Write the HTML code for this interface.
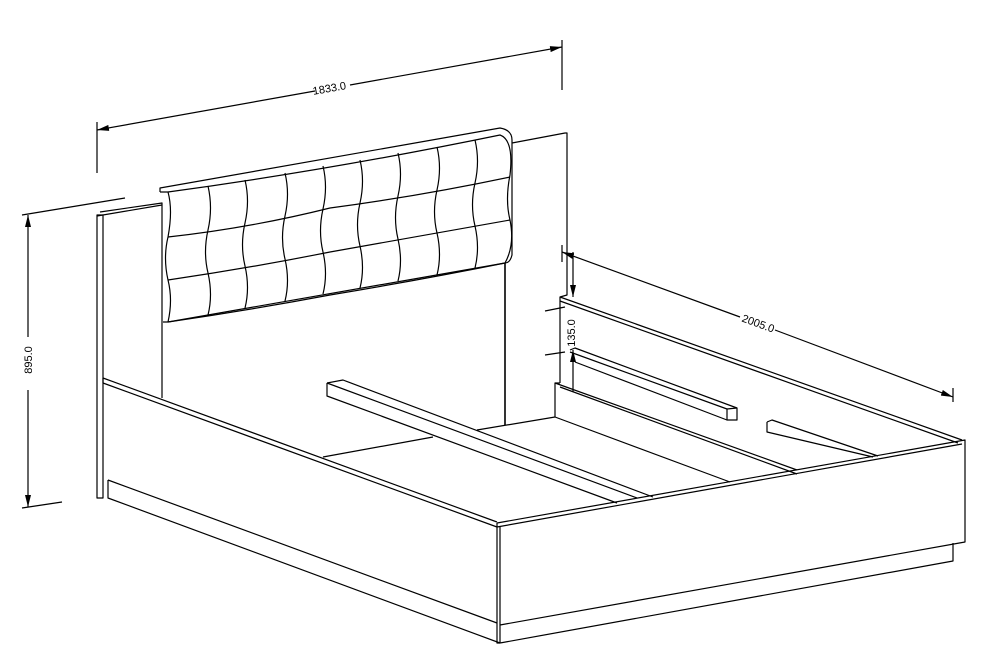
<!DOCTYPE html>
<html><head><meta charset="utf-8"><style>
html,body{margin:0;padding:0;background:#fff;width:1000px;height:650px;overflow:hidden}
svg{display:block}
text{font-family:"Liberation Sans",sans-serif;font-size:11px;fill:#000}
</style></head><body>
<svg width="1000" height="650" viewBox="0 0 1000 650" xmlns="http://www.w3.org/2000/svg">
<defs>
<marker id="a" viewBox="0 0 12 6" refX="12" refY="3" markerWidth="12" markerHeight="6" markerUnits="userSpaceOnUse" orient="auto"><path d="M0,0 L12,3 L0,6 z" fill="#000"/></marker>
</defs>
<g fill="none" stroke="#000" stroke-width="1.2" stroke-linejoin="round">
<!-- top dimension -->
<line x1="97" y1="122" x2="97" y2="173"/>
<line x1="562" y1="40" x2="562" y2="90"/>
<line x1="315" y1="91" x2="97" y2="130" marker-end="url(#a)"/>
<line x1="350" y1="85" x2="562" y2="47" marker-end="url(#a)"/>
<!-- left dimension -->
<line x1="22" y1="215" x2="125" y2="198"/>
<line x1="22" y1="508" x2="62" y2="502"/>
<line x1="28" y1="337" x2="28" y2="215" marker-end="url(#a)"/>
<line x1="28" y1="390" x2="28" y2="507" marker-end="url(#a)"/>
<!-- back panel -->
<path d="M97,215 L97,498 L103,498 L103,215 Z"/>
<path d="M100,212 L162,203 L162,398"/>
<path d="M97,216 L162,205"/>
<path d="M512,143 L565,133 L567,133 L567,295 L560,297 L560,383"/>
<line x1="505" y1="263" x2="505" y2="425" stroke-width="1.6"/>
<!-- headboard cushion -->
<path d="M160,192 L160,188 L500,128 Q512,130 512,140 L512,255 Q510,263 505,263 L168,322 L163,322"/>
<path d="M160,192 L168,192 Q173,210 168,237 Q163,258 168,280 Q173,300 168,322"/>
<path d="M168,192 Q330,170 500,135 Q514,140 510,175 Q505,200 510,220 Q515,245 505,263"/>
<path d="M168,237 Q250,228 330,208 Q420,196 510,177"/>
<path d="M168,280 Q250,268 330,252 Q420,236 510,220"/>
<path d="M168,322 Q250,310 330,295 Q420,280 505,263"/>
<g>
<path d="M208,186 Q213,208 208,230 Q203,252 208,273 Q213,295 208,315"/>
<path d="M245,180 Q250,201 245,223 Q240,245 245,266 Q250,288 245,308"/>
<path d="M285,173 Q290,194 285,216 Q280,238 285,259 Q290,281 285,301"/>
<path d="M323,166 Q328,187 323,209 Q318,231 323,252 Q328,274 323,294"/>
<path d="M360,160 Q365,181 360,203 Q355,225 360,246 Q365,268 360,288"/>
<path d="M398,153 Q403,174 398,196 Q393,218 398,239 Q403,261 398,281"/>
<path d="M437,147 Q442,168 437,190 Q432,212 437,233 Q442,255 437,275"/>
<path d="M475,140 Q480,161 475,183 Q470,205 475,226 Q480,248 475,268"/>
</g>
<!-- left side rail -->
<path d="M103,378 L497,522"/>
<path d="M103,383 L497,527"/>
<path d="M103,378 L103,383"/>
<path d="M108,480 L497,623"/>
<path d="M108,480 L108,498 L500,643"/>
<!-- floor back edge -->
<path d="M323,457 L433,437"/>
<path d="M477,430 L555,417"/>
<!-- left slat -->
<path d="M327,383 L343,380 L653,497"/>
<path d="M327,383 L327,396 L617,503"/>
<path d="M327,383 L637,498"/>
<!-- right inner side -->
<path d="M555,417 L555,383 L560,383"/>
<path d="M555,383 L797,470"/>
<path d="M560,387 L797,474"/>
<path d="M555,417 L730,482"/>
<!-- right rail -->
<path d="M560,297 L962,440"/>
<path d="M560,301 L958,443"/>
<!-- middle slat -->
<path d="M570,350 L575,348 L737,408 L737,420 L727,420 L727,409 L570,352"/>
<path d="M727,409 L737,408"/>
<path d="M575,362 L727,420"/>
<!-- right slat -->
<path d="M767,422 L767,432 L873,457"/>
<path d="M767,422 L772,420 L878,456"/>
<!-- foot board -->
<path d="M497,523 L965,440 L965,542 L500,625"/>
<path d="M497,527 L962,444"/>
<path d="M497,523 L497,643 L500,643"/>
<path d="M500,527 L500,643"/>
<path d="M953,543 L953,561 L500,643"/>
<!-- 2005 dimension -->
<line x1="562" y1="245" x2="562" y2="262"/>
<line x1="953" y1="388" x2="953" y2="402"/>
<line x1="740" y1="317" x2="562" y2="252" marker-end="url(#a)"/>
<line x1="775" y1="330" x2="953" y2="397" marker-end="url(#a)"/>
<!-- 135 dimension -->
<line x1="545" y1="311" x2="565" y2="307"/>
<line x1="545" y1="355" x2="565" y2="352"/>
<line x1="573" y1="252" x2="573" y2="297" marker-end="url(#a)"/>
<line x1="573" y1="392" x2="573" y2="350" marker-end="url(#a)"/>
</g>
<text x="330" y="92" text-anchor="middle" transform="rotate(-10 330 92)">1833.0</text>
<text x="32" y="360" text-anchor="middle" transform="rotate(-90 32 360)">895.0</text>
<text x="757" y="327" text-anchor="middle" transform="rotate(20 757 327)">2005.0</text>
<text x="570" y="328" text-anchor="middle" transform="rotate(-90 575 328)">135.0</text>
</svg>
</body></html>
